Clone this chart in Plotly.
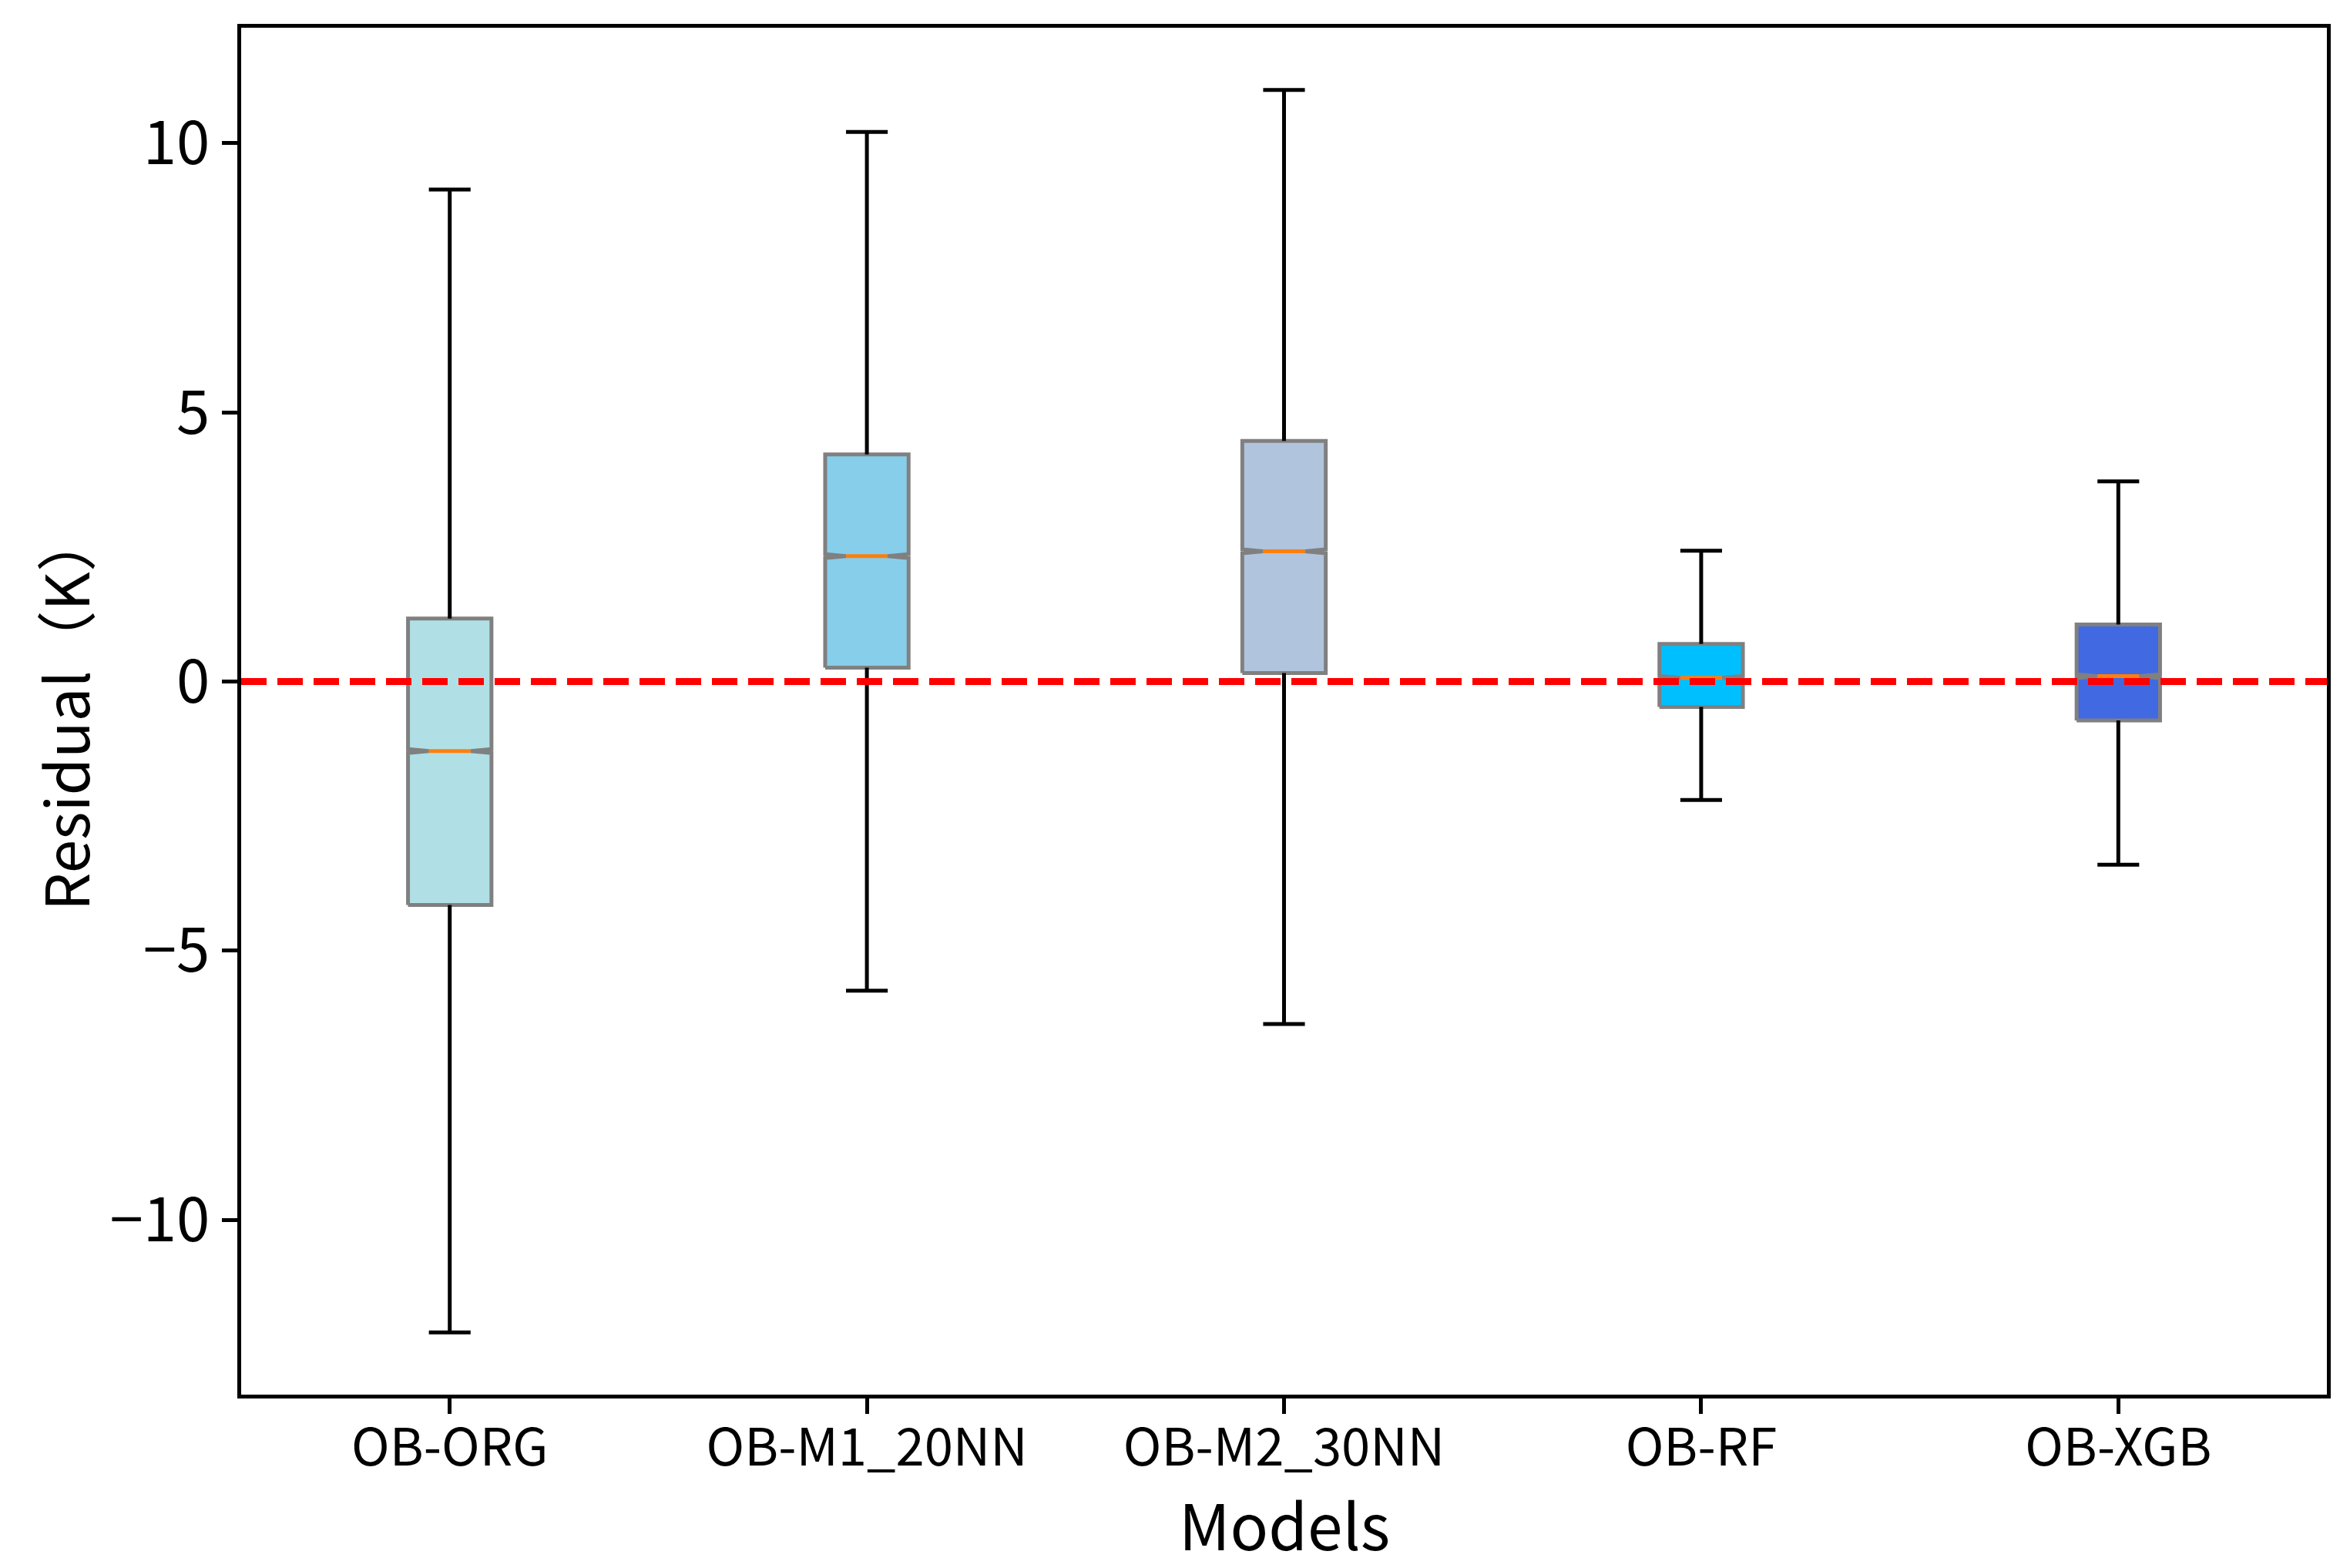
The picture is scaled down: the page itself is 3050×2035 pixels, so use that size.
import plotly.graph_objects as go

# ---- data ----
models = ["OB-ORG", "OB-M1_20NN", "OB-M2_30NN", "OB-RF", "OB-XGB"]
whisker_low = [-12.09, -5.74, -6.36, -2.20, -3.40]
q1 = [-4.15, 0.26, 0.16, -0.47, -0.72]
median = [-1.29, 2.33, 2.42, 0.07, 0.10]
q3 = [1.17, 4.22, 4.47, 0.70, 1.06]
whisker_high = [9.14, 10.21, 10.99, 2.43, 3.72]
box_colors = ["#B0E0E6", "#87CEEB", "#B0C4DE", "#00BFFF", "#4169E1"]
y_ticks = [-10, -5, 0, 5, 10]

# ---- style ----
BOX_W = 0.2
CAP_W = 0.1
NOTCH_H = 0.035
LW = 5
FONT = "Noto Sans CJK SC"

W, H = 3050, 2035
ML, MR, MT, MB = 305, 38, 28, 233

fig = go.Figure()
positions = list(range(1, len(models) + 1))

# boxes (notched polygons)
for x, lo_q, med, hi_q, col in zip(positions, q1, median, q3, box_colors):
    xs = [x - BOX_W / 2, x + BOX_W / 2, x + BOX_W / 2, x + BOX_W / 4, x + BOX_W / 2,
          x + BOX_W / 2, x - BOX_W / 2, x - BOX_W / 2, x - BOX_W / 4, x - BOX_W / 2, x - BOX_W / 2]
    ys = [lo_q, lo_q, med - NOTCH_H, med, med + NOTCH_H,
          hi_q, hi_q, med + NOTCH_H, med, med - NOTCH_H, lo_q]
    fig.add_trace(go.Scatter(x=xs, y=ys, mode="lines", fill="toself", fillcolor=col,
                             line=dict(color="#808080", width=LW), hoverinfo="skip",
                             showlegend=False))

# whiskers and caps
for x, lo, lo_q, hi_q, hi in zip(positions, whisker_low, q1, q3, whisker_high):
    xs = [x, x, None, x, x, None,
          x - CAP_W / 2, x + CAP_W / 2, None, x - CAP_W / 2, x + CAP_W / 2]
    ys = [hi_q, hi, None, lo_q, lo, None, hi, hi, None, lo, lo]
    fig.add_trace(go.Scatter(x=xs, y=ys, mode="lines",
                             line=dict(color="black", width=LW), hoverinfo="skip",
                             showlegend=False))

# medians
for x, med in zip(positions, median):
    fig.add_trace(go.Scatter(x=[x - BOX_W / 4, x + BOX_W / 4], y=[med, med], mode="lines",
                             line=dict(color="#FF7F0E", width=LW), hoverinfo="skip",
                             showlegend=False))

# zero reference line
fig.add_shape(type="line", xref="paper", x0=0, x1=1, yref="y", y0=0, y1=0,
              line=dict(color="#FF0000", width=9, dash="33px,14px"), layer="above")

span = max(whisker_high) - min(whisker_low)
y_range = [min(whisker_low) - 0.05 * span, max(whisker_high) + 0.05 * span]

axis_common = dict(showline=True, linecolor="black", linewidth=5, mirror=True,
                   ticks="outside", ticklen=20, tickwidth=4.5, tickcolor="black",
                   showgrid=False, zeroline=False)

fig.update_xaxes(range=[0.5, len(models) + 0.5], tickvals=positions, ticktext=models,
                 tickfont=dict(family=FONT, size=67, color="black"),
                 ticklabelstandoff=-13, **axis_common)
fig.update_yaxes(range=y_range, tickvals=y_ticks,
                 tickfont=dict(family=FONT, size=78, color="black"), **axis_common)

# axis titles
fig.add_annotation(text="Models", xref="paper", yref="paper", x=0.5,
                   y=-(1968 - (H - MB)) / (H - MT - MB), yanchor="middle", showarrow=False,
                   font=dict(family=FONT, size=82, color="black"))
fig.add_annotation(text="Residual（K）", xref="paper", yref="paper",
                   x=-(ML - 74) / (W - ML - MR), y=0.5, xanchor="center", yanchor="middle",
                   textangle=-90, showarrow=False,
                   font=dict(family=FONT, size=78, color="black"))

fig.update_layout(width=W, height=H, margin=dict(l=ML, r=MR, t=MT, b=MB),
                  plot_bgcolor="white", paper_bgcolor="white",
                  font=dict(family=FONT, color="black"))

fig.write_html("out.html")
